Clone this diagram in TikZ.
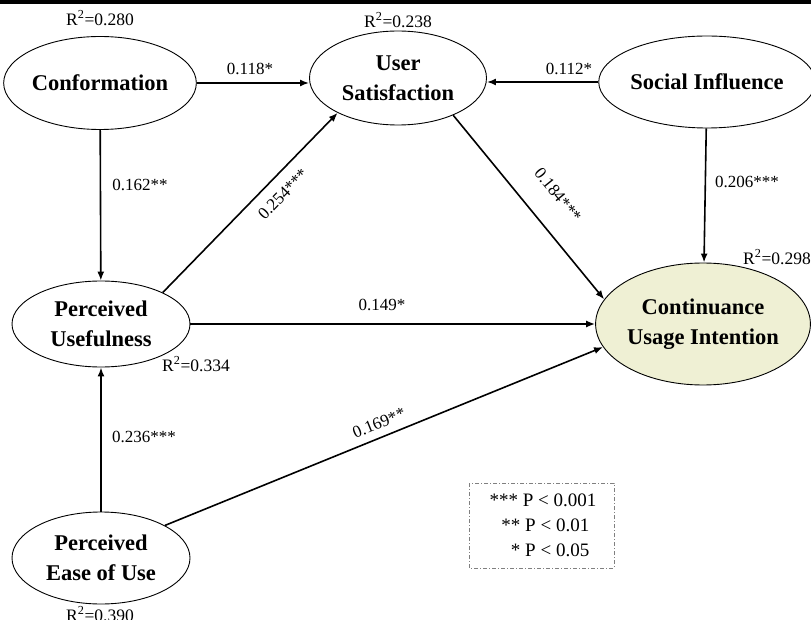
\documentclass[tikz,border=0pt]{standalone}
\usepackage{fontspec}
\setmainfont{Liberation Serif}
\usetikzlibrary{shapes.geometric,arrows.meta}
\begin{document}
\begin{tikzpicture}[x=1pt,y=-1pt,
  latent/.style={ellipse,draw,line width=0.9pt,inner sep=0pt,align=center,font=\fontsize{22.5}{29.5}\selectfont\bfseries},
  arr/.style={line width=1.6pt,-{Latex[length=9pt,width=7pt]}},
  coef/.style={font=\fontsize{17}{19}\selectfont,inner sep=1pt},
  rsq/.style={font=\fontsize{17.5}{19}\selectfont,inner sep=1pt}]
\useasboundingbox (0,0) rectangle (811,620);
\fill (0,0) rectangle (811,4);
% latent variables
\node[latent,minimum width=184pt,minimum height=93pt] (conf) at (100,83) {Conformation};
\node[latent,minimum width=177pt,minimum height=94pt] (us) at (398,78) {User\\Satisfaction};
\node[latent,minimum width=187pt,minimum height=92pt] (si) at (707,82) {Social Influence};
\node[latent,minimum width=178pt,minimum height=86pt] (pu) at (101,324) {Perceived\\Usefulness};
\node[latent,minimum width=178pt,minimum height=92pt] (peou) at (101,558) {Perceived\\Ease of Use};
\node[latent,minimum width=210pt,minimum height=122pt,fill={rgb,255:red,239;green,240;blue,212}] (cui) at (703,324) {Continuance\\Usage Intention};
% R squared
\node[rsq] (r1) at (100,18) {R\textsuperscript{2}=0.280};
\node[rsq] (r2) at (398,20) {R\textsuperscript{2}=0.238};
\node[rsq] (r3) at (777,257) {R\textsuperscript{2}=0.298};
\node[rsq] (r4) at (196,364) {R\textsuperscript{2}=0.334};
\node[rsq] (r5) at (100,614) {R\textsuperscript{2}=0.390};
% paths
\draw[arr] (conf.east) -- (conf.east -| us.west);
\draw[arr] (si.west) -- (si.west -| us.east);
\draw[arr] (conf) -- (pu);
\draw[arr] (peou) -- (pu);
\draw[arr] (si) -- (cui);
\draw[arr] (pu) -- (cui);
\draw[arr] (pu.27) -- (us.210);
\draw[arr] (us.-34) -- (cui.166);
\draw[arr] (peou.27) -- (cui.193);
% coefficients
\node[coef] (c1) at (250,69) {0.118*};
\node[coef] (c2) at (569,69) {0.112*};
\node[coef] (c3) at (140,185) {0.162**};
\node[coef] (c4) at (144,437) {0.236***};
\node[coef] (c5) at (747,182) {0.206***};
\node[coef] (c6) at (382,305) {0.149*};
\node[coef,rotate=46] (c7) at (283,194) {0.254***};
\node[coef,rotate=-51] (c8) at (558,195) {0.184***};
\node[coef,rotate=22] (c9) at (379,423) {0.169**};
% legend
\draw[gray,line width=0.8pt,dash pattern=on 4pt off 2pt on 1pt off 2pt] (469,483) rectangle (614,568);
\node[align=center,font=\fontsize{19}{25}\selectfont] (leg) at (543,525) {*** P < 0.001\\ \ ** P < 0.01\\ \ \ \ * P < 0.05};
\end{tikzpicture}
\end{document}
